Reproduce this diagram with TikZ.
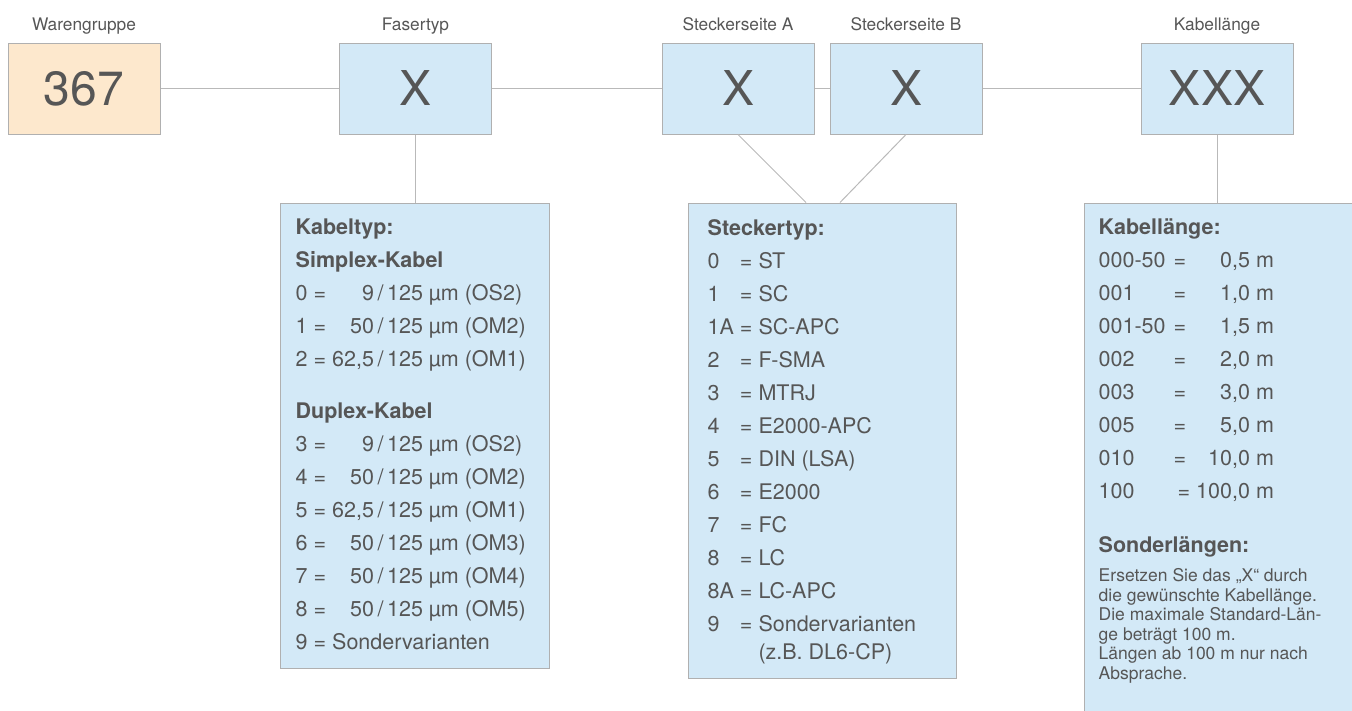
\documentclass[tikz,border=0pt]{standalone}
\usepackage{fontspec}
\setmainfont{TeX Gyre Heros}
\usepackage{tikz}
\usetikzlibrary{calc,positioning}
\usepackage{xcolor}
\definecolor{boxblue}{RGB}{211,233,247}
\definecolor{boxpeach}{RGB}{253,232,205}
\definecolor{rimgray}{RGB}{176,176,176}
\definecolor{linegray}{RGB}{185,185,185}
\definecolor{txtgray}{RGB}{86,86,86}
\newcommand{\gl}{\,/\,}
\newcommand{\ttl}[2]{\multicolumn{#1}{@{}l@{}}{\textbf{#2}}}

\begin{document}
\begin{tikzpicture}[x=1pt,y=1pt,
    codebox/.style={draw=rimgray,line width=1pt,fill=boxblue,minimum width=152pt,minimum height=91pt,
      inner sep=0pt,text=txtgray,font=\fontsize{48}{48}\selectfont},
    lbl/.style={text=txtgray,inner sep=0pt,font=\fontsize{17.3}{18}\selectfont},
    infobox/.style={draw=rimgray,line width=1pt,fill=boxblue,inner sep=0pt},
    infotext/.style={text=txtgray,inner sep=0pt,anchor=base west,font=\fontsize{21.5}{33}\selectfont},
    smalltext/.style={infotext,font=\fontsize{17.5}{19.6}\selectfont},
    link/.style={draw=linegray,line width=1pt}]
  \useasboundingbox (0,0) rectangle (1352,-710);

  \node[codebox,fill=boxpeach] (ware) at (84,-88.5) {367};
  \node[codebox] (faser) at (415.5,-88.5) {X};
  \node[codebox] (steckA) at (738,-88.5) {X};
  \node[codebox] (steckB) at (906,-88.5) {X};
  \node[codebox] (laenge) at (1217,-88.5) {XXX};

  \node[lbl,above=12pt of ware,anchor=base] (lblware) {Warengruppe};
  \node[lbl,above=12pt of faser,anchor=base] (lblfaser) {Fasertyp};
  \node[lbl,above=12pt of steckA,anchor=base] (lblsteckA) {Steckerseite A};
  \node[lbl,above=12pt of steckB,anchor=base] (lblsteckB) {Steckerseite B};
  \node[lbl,above=12pt of laenge,anchor=base] (lbllaenge) {Kabellänge};

  \node[infobox,minimum width=269pt,minimum height=465pt] (kabeltyp) at (414.5,-435.5) {};
  \node[infobox,minimum width=268pt,minimum height=475pt] (steckertyp) at (822,-440.5) {};
  \node[infobox,minimum width=280pt,minimum height=517pt] (kl) at (1224,-461.5) {};

  \node[infotext] (kabeltyptext) at ($(kabeltyp.north west)+(16,-32)$) {%
    \begin{tabular}[t]{@{}l@{\ }r@{}l@{}}
      \ttl{3}{Kabeltyp:}\\
      \ttl{3}{Simplex-Kabel}\\
      0 = & 9 & \gl125 µm (OS2)\\
      1 = & 50 & \gl125 µm (OM2)\\
      2 = & 62,5 & \gl125 µm (OM1)\\[19pt]
      \ttl{3}{Duplex-Kabel}\\
      3 = & 9 & \gl125 µm (OS2)\\
      4 = & 50 & \gl125 µm (OM2)\\
      5 = & 62,5 & \gl125 µm (OM1)\\
      6 = & 50 & \gl125 µm (OM3)\\
      7 = & 50 & \gl125 µm (OM4)\\
      8 = & 50 & \gl125 µm (OM5)\\
      9 = & \multicolumn{2}{@{}l@{}}{Sondervarianten}
    \end{tabular}};

  \node[infotext] (steckertyptext) at ($(steckertyp.north west)+(20,-32.5)$) {%
    \begin{tabular}[t]{@{}l@{\ }l@{}}
      \ttl{2}{Steckertyp:}\\
      0 & = ST\\
      1 & = SC\\
      1A & = SC-APC\\
      2 & = F-SMA\\
      3 & = MTRJ\\
      4 & = E2000-APC\\
      5 & = DIN (LSA)\\
      6 & = E2000\\
      7 & = FC\\
      8 & = LC\\
      8A & = LC-APC\\
      9 & = Sondervarianten\\[-5pt]
        & \phantom{= }(z.B. DL6-CP)
    \end{tabular}};

  \node[infotext] (kltext) at ($(kl.north west)+(15,-32)$) {%
    \begin{tabular}[t]{@{}l@{\hspace{8pt}}c@{\hspace{22pt}}r@{}}
      \ttl{3}{Kabellänge:}\\
      000-50 & = & 0,5 m\\
      001 & = & 1,0 m\\
      001-50 & = & 1,5 m\\
      002 & = & 2,0 m\\
      003 & = & 3,0 m\\
      005 & = & 5,0 m\\
      010 & = & 10,0 m\\
      100 & \multicolumn{2}{@{}r@{}}{\llap{= 100,0 m}}
    \end{tabular}};
  \node[infotext] (sondertitel) at ($(kl.north west)+(15,-350)$) {\textbf{Sonderlängen:}};
  \node[smalltext] (sondertext) at ($(kl.north west)+(15,-379)$) {%
    \begin{tabular}[t]{@{}l@{}}
      Ersetzen Sie das „X“ durch\\
      die gewünschte Kabellänge.\\
      Die maximale Standard-Län-\\
      ge beträgt 100 m.\\
      Längen ab 100 m nur nach\\
      Absprache.
    \end{tabular}};

  \coordinate (kabeltyp-in) at (faser.south |- kabeltyp.north);
  \coordinate (stecker-inA) at ($(steckertyp.north)+(-16,0)$);
  \coordinate (stecker-inB) at ($(steckertyp.north)+(18,0)$);
  \coordinate (kl-in) at (laenge.south |- kl.north);

  \draw[link] (ware) -- (faser);
  \draw[link] (faser) -- (steckA);
  \draw[link] (steckA) -- (steckB);
  \draw[link] (steckB) -- (laenge);
  \draw[link] (faser.south) -- (kabeltyp-in);
  \draw[link] (steckA.south) -- (stecker-inA);
  \draw[link] (steckB.south) -- (stecker-inB);
  \draw[link] (laenge.south) -- (kl-in);
\end{tikzpicture}
\end{document}
